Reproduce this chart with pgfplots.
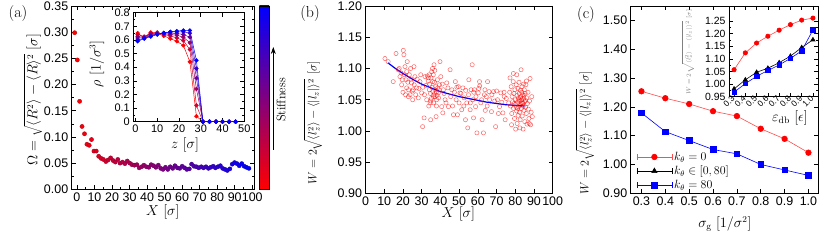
\documentclass[border=0pt]{standalone}
\usepackage{fontspec}
\usepackage{pgfplots}
\pgfplotsset{compat=1.18}
\usetikzlibrary{arrows.meta}
\newfontfamily\tickfont{Liberation Sans}
\definecolor{cA}{rgb}{1,0,0}
\definecolor{cB}{rgb}{0.8,0,0.2}
\definecolor{cC}{rgb}{0.6,0,0.4}
\definecolor{cD}{rgb}{0.4,0,0.6}
\definecolor{cE}{rgb}{0.2,0,0.8}
\definecolor{cF}{rgb}{0,0,1}
\definecolor{lred}{rgb}{1,0.3,0.3}
\pgfplotsset{
  mystyle/.style={
    scale only axis,
    axis line style={line width=0.8bp},
    tick style={line width=0.6bp, black},
    tick align=inside,
    major tick length=4bp,
    minor tick length=2bp,
    tick label style={font=\tickfont\fontsize{12.5}{14}\selectfont},
    /pgf/number format/assume math mode=true,
    label style={font=\fontsize{13.5}{16}\selectfont},
  },
}
\begin{document}
\begin{tikzpicture}
% ---------------- panel (a) main
\begin{axis}[mystyle,
  at={(71.7bp,51.7bp)}, anchor=south west,
  width=182.3bp, height=183.3bp,
  xmin=-3, xmax=101, ymin=0, ymax=0.35,
  xtick={0,10,20,30,40,50,60,70,80,90,100},
  ytick={0,0.05,0.1,0.15,0.2,0.25,0.3,0.35},
  minor tick num=1,
  yticklabel style={/pgf/number format/.cd, fixed, fixed zerofill, precision=2},
  xlabel={$X\ [\sigma]$},
  ylabel={$\Omega=\sqrt{\langle R^2\rangle-\langle R\rangle^2}\ [\sigma]$},
  xlabel style={at={(axis description cs:0.5,-0.124)}, anchor=center},
  ylabel style={at={(axis description cs:-0.212,0.49)}, anchor=center},
  colormap={rb}{rgb255=(255,0,0) rgb255=(0,0,255)},
  point meta min=-1.3, point meta max=98.1,
]
\addplot[scatter, only marks, mark=*, mark size=2.1bp, scatter src=x] coordinates {
(-1.3,0.299) (0.2,0.247) (1.5,0.168) (2.9,0.120) (4.3,0.106) (5.7,0.086) (7.0,0.084) (8.3,0.095)
(9.7,0.073) (11.0,0.073) (12.4,0.063) (13.8,0.059) (15.1,0.057) (16.5,0.053) (17.8,0.056) (19.2,0.060)
(20.6,0.055) (21.9,0.052) (23.3,0.057) (24.6,0.050) (26.0,0.052) (27.4,0.049) (28.7,0.054) (30.1,0.050)
(31.4,0.047) (32.8,0.046) (34.2,0.047) (35.5,0.041) (36.9,0.043) (38.2,0.046) (39.6,0.043) (41.0,0.042)
(42.3,0.047) (43.7,0.045) (45.0,0.042) (46.4,0.046) (47.8,0.040) (49.1,0.038) (50.5,0.042) (51.8,0.038)
(53.2,0.043) (54.6,0.040) (55.9,0.045) (57.3,0.041) (58.6,0.040) (60.0,0.044) (61.4,0.041) (62.7,0.038)
(64.1,0.039) (65.4,0.048) (66.8,0.044) (68.2,0.043) (69.5,0.041) (70.9,0.043) (72.2,0.041) (73.6,0.043)
(75.0,0.040) (76.3,0.042) (77.7,0.044) (79.0,0.041) (80.4,0.043) (81.8,0.045) (83.1,0.040) (84.5,0.038)
(85.8,0.036) (87.2,0.039) (88.6,0.048) (89.9,0.051) (91.3,0.049) (92.6,0.045) (94.0,0.049) (95.4,0.044)
(96.7,0.042) (98.1,0.040)
};
\end{axis}
% ---------------- panel (a) inset
\begin{axis}[mystyle,
  at={(133.3bp,119.3bp)}, anchor=south west,
  width=111bp, height=109bp,
  axis background/.style={fill=white},
  xmin=-1, xmax=50, ymin=0, ymax=0.8,
  xtick={0,10,20,30,40,50},
  ytick={0,0.1,0.2,0.3,0.4,0.5,0.6,0.7,0.8},
  minor y tick num=1,
  tick label style={font=\tickfont\fontsize{11}{13}\selectfont},
  yticklabel style={/pgf/number format/.cd, fixed, precision=1},
  xlabel={$z\ [\sigma]$},
  ylabel={$\rho\ [1/\sigma^3]$},
  xlabel style={at={(axis description cs:0.466,-0.214)}, anchor=center},
  ylabel style={at={(axis description cs:-0.327,0.53)}, anchor=center},
  every axis plot/.append style={line width=0.5bp, mark=*, mark size=1.9bp},
]
\addplot[cA] coordinates {(1,0.650) (4,0.615) (7,0.655) (10,0.650) (13,0.630) (16,0.610) (19,0.590) (22,0.560) (25,0.440) (28,0.040) (31,0) (34,0) (37,0) (40,0) (43,0) (46,0)};
\addplot[cB] coordinates {(1,0.640) (4,0.625) (7,0.650) (10,0.655) (13,0.640) (16,0.630) (19,0.615) (22,0.595) (25,0.530) (28,0.120) (31,0) (34,0) (37,0) (40,0) (43,0) (46,0)};
\addplot[cC] coordinates {(1,0.625) (4,0.620) (7,0.645) (10,0.650) (13,0.645) (16,0.640) (19,0.635) (22,0.620) (25,0.580) (28,0.240) (31,0) (34,0) (37,0) (40,0) (43,0) (46,0)};
\addplot[cD] coordinates {(1,0.615) (4,0.615) (7,0.635) (10,0.645) (13,0.650) (16,0.650) (19,0.648) (22,0.640) (25,0.620) (28,0.320) (31,0) (34,0) (37,0) (40,0) (43,0) (46,0)};
\addplot[cE] coordinates {(1,0.600) (4,0.612) (7,0.630) (10,0.642) (13,0.652) (16,0.658) (19,0.660) (22,0.660) (25,0.650) (28,0.390) (31,0) (34,0) (37,0) (40,0) (43,0) (46,0)};
\addplot[cF] coordinates {(1,0.590) (4,0.610) (7,0.625) (10,0.640) (13,0.650) (16,0.660) (19,0.665) (22,0.670) (25,0.670) (28,0.450) (31,0) (34,0) (37,0) (40,0) (43,0) (46,0)};
\end{axis}
% colorbar and arrow
\shade[bottom color=red, top color=blue] (259.3bp,51.7bp) rectangle (269bp,235bp);
\draw[line width=0.8bp] (259.3bp,51.7bp) rectangle (269bp,235bp);
\draw[-{Stealth[length=7bp,width=5bp]}, line width=0.8bp] (273.3bp,91bp) -- (273.3bp,194bp);
\node[rotate=90, font=\fontsize{12.5}{14}\selectfont] at (281bp,141bp) {Stiffness};
% ---------------- panel (b)
\begin{axis}[mystyle,
  at={(365.5bp,47.5bp)}, anchor=south west,
  width=187.2bp, height=187.5bp,
  xmin=0, xmax=100, ymin=0.9, ymax=1.2,
  xtick={0,10,20,30,40,50,60,70,80,90,100},
  ytick={0.9,0.95,1,1.05,1.1,1.15,1.2},
  yticklabel style={/pgf/number format/.cd, fixed, fixed zerofill, precision=2},
  xlabel={$X\ [\sigma]$},
  ylabel={$W=2\sqrt{\langle l_z^2\rangle-\langle |l_z|\rangle^2}\ [\sigma]$},
  ylabel style={font=\fontsize{12}{14}\selectfont, at={(axis description cs:-0.28,0.377)}, anchor=center},
  xlabel style={at={(axis description cs:0.496,-0.109)}, anchor=center},
]
\addplot[only marks, mark=o, mark size=2.1bp, red, mark options={line width=0.5bp, opacity=0.6}] coordinates {
(10.4,1.116) (12.1,1.111) (14.8,1.079) (16.3,1.124) (17.5,1.098) (18.4,1.087) (19.3,1.074) (20.2,1.129)
(20.5,1.122) (21.1,1.103) (21.6,1.082) (22.0,1.069) (22.3,1.111) (22.9,1.055) (23.4,1.090) (24.1,1.100)
(24.6,1.077) (25.2,1.050) (25.5,1.066) (25.9,1.103) (26.4,1.087) (27.3,1.069) (28.2,1.053) (29.1,1.079)
(30.0,1.061) (30.5,1.007) (31.3,1.021) (31.8,1.087) (32.7,1.050) (33.6,1.085) (34.1,1.066) (34.5,1.045)
(34.8,1.018) (35.4,1.095) (35.9,1.079) (36.3,1.055) (36.6,1.106) (37.1,1.066) (37.7,1.023) (38.0,1.050)
(38.4,1.082) (38.9,1.061) (39.5,1.074) (39.8,1.111) (40.2,1.087) (40.7,1.039) (41.3,1.029) (41.6,1.066)
(42.5,1.050) (43.4,1.077) (44.3,1.039) (45.2,1.098) (46.1,1.066) (47.0,1.026) (48.0,1.079) (48.4,1.050)
(49.1,1.026) (49.6,1.071) (50.5,1.061) (51.4,1.034) (52.0,1.069) (52.7,1.053) (53.4,1.018) (54.1,1.045)
(54.6,1.005) (55.2,1.082) (55.9,1.034) (56.4,1.066) (57.0,1.106) (57.3,1.050) (57.7,1.021) (58.2,1.066)
(58.8,1.039) (59.5,0.997) (60.2,1.061) (60.9,1.079) (61.6,1.045) (62.3,1.018) (63.0,0.997) (63.8,1.066)
(64.5,1.055) (65.2,1.079) (66.3,1.050) (67.3,1.031) (68.4,1.063) (69.5,1.007) (70.5,1.050) (71.6,1.039)
(72.3,1.061) (73.4,1.029) (74.1,1.055) (74.6,1.018)
(77.0,1.062) (77.4,1.040) (77.8,1.071) (78.1,1.028) (78.3,1.055) (78.6,1.047) (78.9,1.079) (79.1,1.036)
(79.3,1.060) (79.6,1.020) (79.8,1.066) (80.0,1.050) (80.2,1.003) (80.3,1.043) (80.5,1.074) (80.7,1.032)
(80.9,1.057) (81.0,1.012) (81.2,1.046) (81.4,1.068) (81.5,1.025) (81.7,1.053) (81.8,1.039) (82.0,1.078)
(82.1,1.060) (82.3,1.030) (82.4,1.048) (82.6,1.018) (82.7,1.065) (82.9,1.042) (83.0,1.055) (83.1,1.098)
(83.3,1.036) (83.4,1.050) (83.6,1.071) (83.7,1.024) (83.9,1.045) (84.0,1.058) (84.2,1.003) (84.3,1.040)
(84.5,1.052) (84.6,1.033) (84.8,1.066) (85.0,1.047) (85.1,1.015) (85.3,1.060) (85.5,1.038) (85.7,1.074)
(85.9,1.028) (86.1,1.053) (86.3,1.011) (86.5,1.044) (86.8,1.062) (87.0,1.035) (87.3,1.020) (87.6,1.048)
(87.9,1.084) (88.2,1.010) (88.5,1.030) (88.8,1.055) (89.1,1.023) (76.5,1.045) (77.2,1.085) (78.0,1.010)
(79.0,1.092) (80.8,1.090) (82.5,1.005) (84.4,1.075) (86.0,1.080) (87.5,1.012) (81.3,1.036) (83.5,1.062)
(85.4,1.049) (79.4,1.044) (82.8,1.053) (84.1,1.044) (80.6,1.038) (83.2,1.045) (81.9,1.050) (84.7,1.057)
(33.0,1.088) (33.5,1.080) (34.0,1.090) (34.3,1.075) (34.7,1.060) (35.0,1.085) (35.2,1.052) (35.6,1.070)
(36.0,1.063) (36.2,1.090) (36.5,1.058) (36.8,1.078) (37.2,1.055) (37.5,1.071) (37.8,1.062) (38.2,1.057)
(38.6,1.069) (39.0,1.053) (39.3,1.066) (33.8,1.040) (34.9,1.048) (36.4,1.045) (37.9,1.040) (35.8,1.100)
(37.0,1.097)
(18.0,1.100) (19.0,1.093) (19.6,1.082) (20.0,1.062) (20.8,1.090) (21.4,1.058) (22.0,1.095) (22.6,1.078)
(23.0,1.066) (23.8,1.058) (24.3,1.083) (25.0,1.064) (26.0,1.074) (26.8,1.058) (27.6,1.083) (28.5,1.068)
(29.5,1.090) (30.6,1.070) (31.5,1.058) (32.3,1.073)
(41.0,1.075) (42.0,1.060) (43.0,1.045) (44.0,1.069) (45.5,1.055) (46.5,1.040) (47.5,1.062) (48.8,1.070)
(50.0,1.045) (51.0,1.060) (52.5,1.040) (53.5,1.065) (55.0,1.058) (56.0,1.045) (57.8,1.062) (59.0,1.055)
(60.5,1.068) (62.0,1.050) (63.5,1.058) (65.0,1.040) (66.0,1.063) (67.5,1.058) (69.0,1.048) (70.0,1.064)
(71.0,1.028) (72.8,1.046) (74.0,1.062) (75.2,1.052) (61.0,1.072) (64.0,1.033)
};
\addplot[blue, line width=1.2bp, no marks] coordinates {
(12,1.109) (16,1.100) (20,1.092) (25,1.083) (30,1.075) (35,1.069) (40,1.063) (45,1.059) (50,1.055)
(55,1.052) (60,1.049) (65,1.046) (70,1.044) (75,1.042) (80,1.041) (85,1.040)
};
\end{axis}
% ---------------- panel (c) main
\begin{axis}[mystyle,
  at={(630.7bp,47.7bp)}, anchor=south west,
  width=187.3bp, height=187.3bp,
  xmin=0.255, xmax=1.04, ymin=0.9, ymax=1.55,
  xtick={0.3,0.4,0.5,0.6,0.7,0.8,0.9,1.0},
  ytick={0.9,1.0,1.1,1.2,1.3,1.4,1.5},
  xticklabel style={/pgf/number format/.cd, fixed, fixed zerofill, precision=1},
  yticklabel style={/pgf/number format/.cd, fixed, fixed zerofill, precision=2},
  xlabel={$\sigma_{\mathrm{g}}\ [1/\sigma^2]$},
  ylabel={$W=2\sqrt{\langle l_z^2\rangle-\langle |l_z|\rangle^2}\ [\sigma]$},
  ylabel style={font=\fontsize{12}{14}\selectfont, at={(axis description cs:-0.244,0.322)}, anchor=center},
  xlabel style={at={(axis description cs:0.503,-0.164)}, anchor=center},
  legend image code/.code={
    \draw[#1, mark=none] (0bp,0bp) -- (35bp,0bp);
    \draw[#1, mark=none] (0bp,-3bp) -- (0bp,3bp);
    \draw[#1, mark=none] (35bp,-3bp) -- (35bp,3bp);
    \draw[mark repeat=2, mark phase=2, #1] plot coordinates {(0bp,0bp) (17.5bp,0bp) (35bp,0bp)};
  },
  legend style={draw=none, fill=none, at={(axis description cs:0.025,0.0)}, anchor=south west,
    font=\fontsize{12}{14}\selectfont, row sep=0bp, inner sep=1bp},
  legend cell align=left,
]
\addlegendimage{lred, line width=0.6bp, mark=*, mark size=2.8bp, mark options={fill=red, draw=red}}
\addlegendentry{$k_\theta=0$}
\addlegendimage{black, line width=0.6bp, mark=triangle*, mark size=3bp, mark options={fill=black}}
\addlegendentry{$k_\theta\in[0,80]$}
\addlegendimage{blue, line width=0.6bp, mark=square*, mark size=2.8bp, mark options={fill=blue}}
\addlegendentry{$k_\theta=80$}
\addplot[lred, line width=0.6bp, mark=*, mark size=2.8bp, mark options={fill=red, draw=red}, forget plot] coordinates {
(0.3,1.254) (0.4,1.230) (0.5,1.210) (0.6,1.185) (0.7,1.168) (0.8,1.124) (0.9,1.089) (1.0,1.041)};
\addplot[blue, line width=0.6bp, mark=square*, mark size=2.8bp, mark options={fill=blue}, forget plot] coordinates {
(0.3,1.179) (0.4,1.114) (0.5,1.083) (0.6,1.052) (0.7,1.037) (0.8,1.000) (0.9,0.981) (1.0,0.962)};
\end{axis}
% ---------------- panel (c) inset
\begin{axis}[mystyle,
  at={(729bp,144.3bp)}, anchor=south west,
  width=89bp, height=90.7bp,
  axis background/.style={fill=white},
  xmin=0.255, xmax=1.045, ymin=0.95, ymax=1.31,
  xtick={0.3,0.4,0.5,0.6,0.7,0.8,0.9,1.0},
  ytick={0.95,1.0,1.05,1.1,1.15,1.2,1.25},
  minor y tick num=1,
  tick label style={font=\tickfont\fontsize{10.5}{12}\selectfont},
  xticklabel style={font=\tickfont\fontsize{8.5}{10}\selectfont, rotate=45, anchor=east, inner sep=1bp, /pgf/number format/.cd, fixed, fixed zerofill, precision=1},
  yticklabel style={/pgf/number format/.cd, fixed, fixed zerofill, precision=2},
  xlabel={$\varepsilon_{\mathrm{db}}\ [\epsilon]$},
  ylabel={$W=2\sqrt{\langle l_z^2\rangle-\langle |l_z|\rangle^2}\ [\sigma]$},
  ylabel style={font=\fontsize{6}{7}\selectfont, color=gray, at={(axis description cs:-0.46,0.49)}, anchor=center},
  xlabel style={at={(axis description cs:0.685,-0.235)}, anchor=center},
  every axis plot/.append style={line width=0.6bp},
]
\addplot[lred, mark=*, mark size=2.2bp, mark options={fill=red, draw=red}] coordinates {
(0.3,1.057) (0.4,1.124) (0.5,1.163) (0.6,1.190) (0.7,1.214) (0.8,1.236) (0.9,1.254) (1.0,1.262)};
\addplot[black, mark=triangle*, mark size=2.4bp, mark options={fill=black}] coordinates {
(0.3,0.981) (0.4,1.017) (0.5,1.047) (0.6,1.063) (0.7,1.085) (0.8,1.111) (0.9,1.145) (1.0,1.176)};
\addplot[blue, mark=square*, mark size=2.2bp, mark options={fill=blue}] coordinates {
(0.3,0.968) (0.4,1.002) (0.5,1.031) (0.6,1.054) (0.7,1.076) (0.8,1.102) (0.9,1.132) (1.0,1.215)};
\end{axis}
% panel labels
\node[font=\fontsize{16}{18}\selectfont] at (18bp,227bp) {(a)};
\node[font=\fontsize{16}{18}\selectfont] at (310bp,227bp) {(b)};
\node[font=\fontsize{16}{18}\selectfont] at (586bp,226bp) {(c)};
\pgfresetboundingbox
\path[use as bounding box] (0bp,0bp) rectangle (831bp,241bp);
\end{tikzpicture}
\end{document}
